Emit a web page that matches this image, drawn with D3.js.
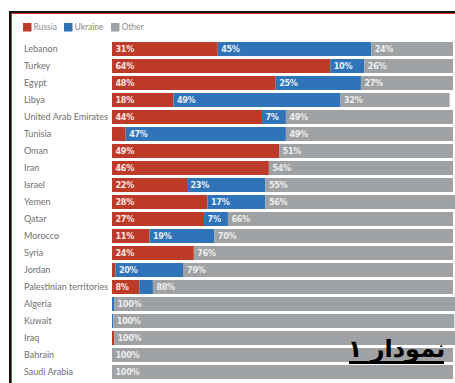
<!DOCTYPE html>
<html>
<head>
<meta charset="utf-8">
<script src="https://cdn.jsdelivr.net/npm/d3@7"></script>
<style>
  body { margin: 0; background: #fff; }
  svg { display: block; }
</style>
</head>
<body>
<div id="chart"></div>
<script>
const countries = ["Lebanon", "Turkey", "Egypt", "Libya", "United Arab Emirates", "Tunisia", "Oman", "Iran",
    "Israel", "Yemen", "Qatar", "Morocco", "Syria", "Jordan", "Palestinian territories", "Algeria",
    "Kuwait", "Iraq", "Bahrain", "Saudi Arabia"];
const russia  = [31, 64, 48, 18, 44, 4, 49, 46, 22, 28, 27, 11, 24, 1, 8, 0, 0, 0.6, 0, 0];
const ukraine = [45, 10, 25, 49, 7, 47, 0, 0, 23, 17, 7, 19, 0, 20, 4, 0.6, 0.4, 0, 0, 0];
const other   = [24, 26, 27, 32, 49, 49, 51, 54, 55, 56, 66, 70, 76, 79, 88, 100, 100, 100, 100, 100];
const seriesNames = ["Russia", "Ukraine", "Other"];

const width = 455, height = 383;
const colors = { Russia: "#be3a28", Ukraine: "#2f74b8", Other: "#9fa2a4" };
const labelColors = { Russia: "#fbe9e6", Ukraine: "#e6eef8", Other: "#eeeeee" };

const data = countries.map((c, i) => ({ country: c, Russia: russia[i], Ukraine: ukraine[i], Other: other[i] }));

const svg = d3.select("#chart")
    .append("svg")
    .attr("width", width)
    .attr("height", height);

// frame
svg.append("line").attr("x1", 10).attr("y1", 12).attr("x2", width).attr("y2", 12)
    .attr("stroke", "#111").attr("stroke-width", 2);
svg.append("line").attr("x1", 10).attr("y1", 11).attr("x2", 10).attr("y2", height)
    .attr("stroke", "#111").attr("stroke-width", 2);
svg.append("line").attr("x1", 11).attr("y1", 13.5).attr("x2", width).attr("y2", 13.5)
    .attr("stroke", "#d0302a").attr("stroke-width", 1);
svg.append("line").attr("x1", 11.5).attr("y1", 13).attr("x2", 11.5).attr("y2", height)
    .attr("stroke", "#d0302a").attr("stroke-width", 1);

const x = d3.scaleLinear().domain([0, 100]).range([112, 453]);
const y = d3.scaleBand().domain(countries)
    .range([40.5, 40.5 + 17 * countries.length])
    .paddingInner(3 / 17).paddingOuter(1.5 / 17);

const stack = d3.stack().keys(seriesNames)(data);

const layer = svg.selectAll("g.layer")
    .data(stack)
    .enter()
    .append("g")
    .attr("class", "layer")
    .attr("fill", s => colors[s.key]);

layer.selectAll("rect")
    .data(s => s)
    .enter()
    .append("rect")
    .attr("x", d => x(d[0]))
    .attr("y", d => y(d.data.country))
    .attr("width", d => Math.max(0, x(d[1]) - x(d[0])))
    .attr("height", y.bandwidth());

// value labels (small segments stay unlabeled)
stack.forEach(s => {
    svg.append("g")
        .selectAll("text")
        .data(s.filter(d => d[1] - d[0] >= 6))
        .enter()
        .append("text")
        .attr("x", d => x(d[0]) + 3.5)
        .attr("y", d => y(d.data.country) + y.bandwidth() / 2)
        .attr("dy", "0.36em")
        .attr("fill", labelColors[s.key])
        .style("font-family", "'Liberation Sans Narrow', 'DejaVu Sans Condensed', sans-serif")
        .style("font-weight", "bold")
        .style("font-size", "9px")
        .style("letter-spacing", "-0.3px")
        .text(d => Math.round(d[1] - d[0]) + "%");
});

// category labels
svg.append("g")
    .selectAll("text")
    .data(countries)
    .enter()
    .append("text")
    .attr("x", 24)
    .attr("y", d => y(d) + y.bandwidth() / 2)
    .attr("dy", "0.35em")
    .attr("fill", "#707070")
    .style("font-family", "Lato, 'Open Sans', sans-serif")
    .style("font-size", "9px")
    .text(d => d);

// legend
const legendX = [23, 64, 111];
const legend = svg.append("g")
    .selectAll("g")
    .data(seriesNames)
    .enter()
    .append("g")
    .attr("transform", (d, i) => `translate(${legendX[i]},23)`);
legend.append("rect").attr("width", 8.5).attr("height", 8.5).attr("fill", d => colors[d]);
legend.append("text")
    .attr("x", 10.5).attr("y", 4.3).attr("dy", "0.35em")
    .attr("fill", "#8a8a8a")
    .style("font-family", "Lato, 'Open Sans', sans-serif")
    .style("font-size", "8.5px")
    .text(d => d);

// caption
svg.append("text")
    .attr("x", 396.5)
    .attr("y", 357)
    .attr("text-anchor", "middle")
    .attr("fill", "#000")
    .style("font-family", "'DejaVu Sans', sans-serif")
    .style("font-weight", "bold")
    .style("font-size", "24px")
    .text("نمودار ۱");
svg.append("rect")
    .attr("x", 349).attr("y", 361).attr("width", 95).attr("height", 3)
    .attr("fill", "#000");
</script>
</body>
</html>
